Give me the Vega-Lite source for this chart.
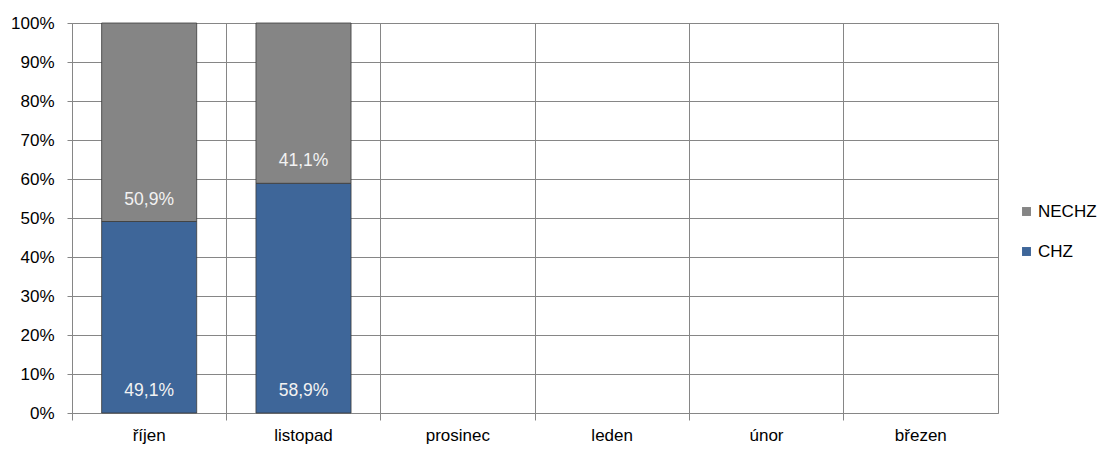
{
  "$schema": "https://vega.github.io/schema/vega-lite/v6.json",
  "autosize": "none",
  "width": 926,
  "height": 390,
  "padding": {"left": 72, "top": 23, "right": 104, "bottom": 37},
  "config": {
    "locale": {"number": {"decimal": ",", "thousands": " ", "grouping": [3], "currency": ["", " Kč"]}},
    "font": "Liberation Sans",
    "view": {"stroke": "#868686", "strokeWidth": 1},
    "background": "white",
    "axisY": {"values": [0, 0.1, 0.2, 0.3, 0.4, 0.5, 0.6, 0.7, 0.8, 0.9, 1]}
  },
  "data": {
    "values": [
      {"month": "říjen", "series": "CHZ", "value": 0.491},
      {"month": "říjen", "series": "NECHZ", "value": 0.509},
      {"month": "listopad", "series": "CHZ", "value": 0.589},
      {"month": "listopad", "series": "NECHZ", "value": 0.411}
    ]
  },
  "transform": [
    {"stack": "value", "groupby": ["month"], "sort": [{"field": "series", "order": "ascending"}], "as": ["v0", "v1"]}
  ],
  "encoding": {
    "x": {
      "field": "month",
      "type": "nominal",
      "sort": null,
      "scale": {"domain": ["říjen", "listopad", "prosinec", "leden", "únor", "březen"], "paddingInner": 0, "paddingOuter": 0},
      "axis": {
        "title": null,
        "labelAngle": 0,
        "bandPosition": 0,
        "grid": true,
        "gridColor": "#868686",
        "gridOpacity": 1,
        "domain": false,
        "tickColor": "#868686",
        "tickSize": 7,
        "labelPadding": 7,
        "labelFontSize": 17,
        "labelColor": "#000000",
        "labelFont": "Liberation Sans"
      }
    },
    "y": {
      "field": "v0",
      "type": "quantitative",
      "scale": {"domain": [0, 1], "nice": false},
      "axis": {
        "title": null,
        "format": ".0%",
        "tickCount": {"signal": "11"},
        "labelOverlap": false,
        "labelFlush": false,
        "grid": true,
        "gridColor": "#868686",
        "gridOpacity": 1,
        "domain": false,
        "tickColor": "#868686",
        "tickSize": 5,
        "labelPadding": 13,
        "labelFontSize": 17,
        "labelColor": "#000000",
        "labelFont": "Liberation Sans"
      }
    }
  },
  "layer": [
    {
      "mark": {"type": "bar", "width": {"band": 0.616}, "stroke": "#3a3a3a", "strokeWidth": 0.8},
      "encoding": {
        "y2": {"field": "v1"},
        "color": {
          "field": "series",
          "type": "nominal",
          "scale": {"domain": ["NECHZ", "CHZ"], "range": ["#858585", "#3e6699"]},
          "legend": {
            "title": null,
            "orient": "none",
            "legendX": 946,
            "legendY": 180,
            "symbolType": "square",
            "symbolSize": 80,
            "symbolStrokeWidth": 0,
            "rowPadding": 22,
            "labelFontSize": 17,
            "labelFont": "Liberation Sans",
            "labelColor": "#000000",
            "labelOffset": 3
          }
        }
      }
    },
    {
      "mark": {"type": "text", "color": "#f2f2f2", "fontSize": 17.5, "dy": -22, "baseline": "middle", "font": "Liberation Sans"},
      "encoding": {
        "text": {"field": "value", "type": "quantitative", "format": ".1%"}
      }
    }
  ]
}
